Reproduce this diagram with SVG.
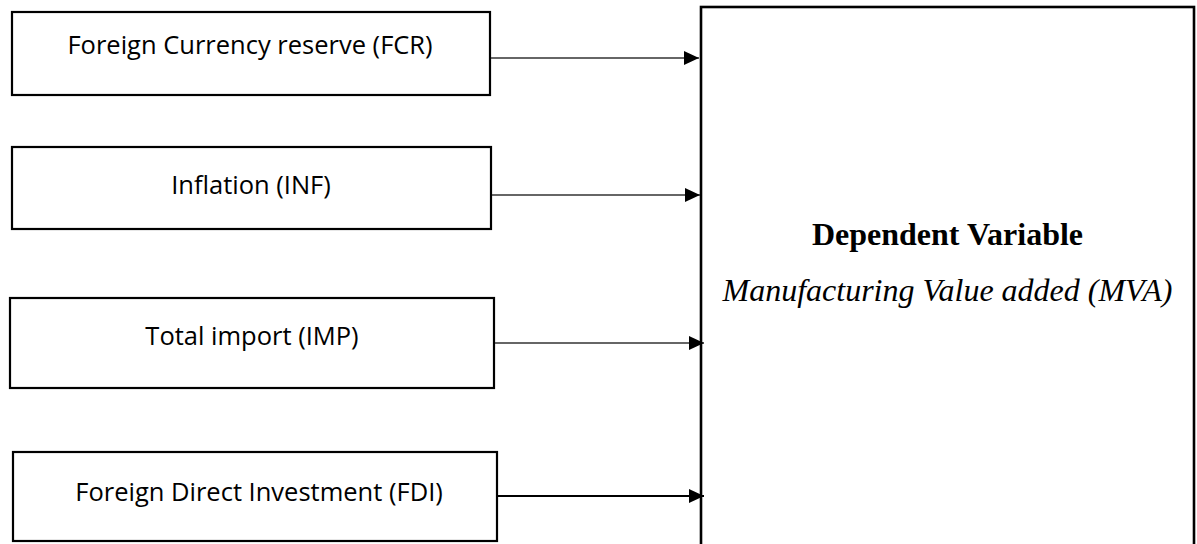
<svg xmlns="http://www.w3.org/2000/svg" width="1197" height="544" viewBox="0 0 1197 544">
<style>
.box{fill:#fff;stroke:#000;stroke-width:2.2}
.lbl{font-family:"Open Sans","Liberation Sans",sans-serif;font-size:25.5px;fill:#000;text-anchor:middle}
.conn{stroke:#333;stroke-width:1.4;fill:none}
.head{fill:#000}
.serif{font-family:"Liberation Serif","Times New Roman",serif;font-size:32px;text-anchor:middle;fill:#000}
</style>
<defs>
<marker id="arr" markerUnits="userSpaceOnUse" markerWidth="16" markerHeight="14" refX="15" refY="7" orient="auto">
<path class="head" d="M0,0 L15,7 L0,14 Z"/>
</marker>
</defs>
<g id="dependent">
<rect class="box" x="701" y="7" width="493" height="545" style="stroke-width:2.6"/>
<text class="serif" x="947.5" y="245" font-weight="bold">Dependent Variable</text>
<text class="serif" x="947.5" y="301" font-style="italic">Manufacturing Value added (MVA)</text>
</g>
<g id="fcr">
<rect class="box" x="12" y="12" width="478" height="83"/>
<text class="lbl" x="250" y="54">Foreign Currency reserve (FCR)</text>
</g>
<g id="inf">
<rect class="box" x="12" y="147" width="479" height="82"/>
<text class="lbl" x="251" y="194">Inflation (INF)</text>
</g>
<g id="imp">
<rect class="box" x="10" y="298" width="484" height="90"/>
<text class="lbl" x="252" y="345">Total import (IMP)</text>
</g>
<g id="fdi">
<rect class="box" x="13" y="452" width="484" height="89"/>
<text class="lbl" x="259" y="501">Foreign Direct Investment (FDI)</text>
</g>
<g id="connectors">
<line class="conn" x1="491" y1="58" x2="699" y2="58" marker-end="url(#arr)"/>
<line class="conn" x1="492" y1="195" x2="700" y2="195" marker-end="url(#arr)"/>
<line class="conn" x1="495" y1="343" x2="704" y2="343" marker-end="url(#arr)"/>
<line class="conn" x1="498" y1="496" x2="704" y2="496" marker-end="url(#arr)" style="stroke:#000;stroke-width:2.2"/>
</g>
</svg>
